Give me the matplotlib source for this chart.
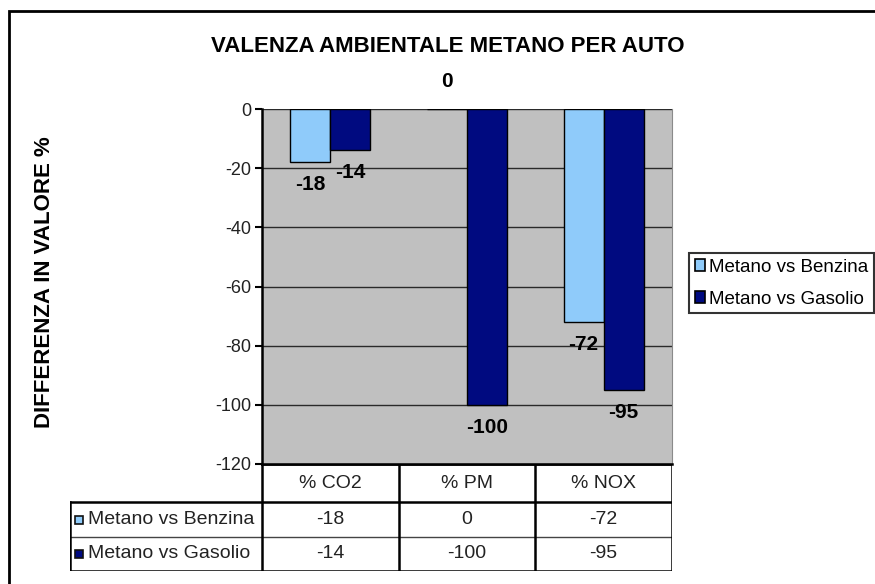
import numpy as np
import matplotlib
matplotlib.use("Agg")
import matplotlib.pyplot as plt
from matplotlib.patches import Patch, Rectangle

plt.rcParams['font.family'] = ['Liberation Sans', 'DejaVu Sans']

# ---- data ----
title = "VALENZA AMBIENTALE METANO PER AUTO"
ylabel = "DIFFERENZA IN VALORE %"
categories = ["% CO2", "% PM", "% NOX"]
series_names = ["Metano vs Benzina", "Metano vs Gasolio"]
benzina = [-18, 0, -72]
gasolio = [-14, -100, -95]
yticks = [0, -20, -40, -60, -80, -100, -120]

light = "#8FCBFA"
dark = "#000A80"

W, H = 875, 584
fig = plt.figure(figsize=(W / 100, H / 100), dpi=100)
fig.patch.set_facecolor("white")

def fy(py):
    return 1 - py / H

# outer chart frame
fig.patches.append(Rectangle((9 / W, -0.1), 1.2, fy(11) + 0.1, transform=fig.transFigure,
                             fill=False, edgecolor="black", linewidth=2))

ax_l, ax_r, ax_t, ax_b = 262, 672, 109, 464
ax = fig.add_axes([ax_l / W, fy(ax_b), (ax_r - ax_l) / W, (ax_b - ax_t) / H])
ax.set_facecolor("#C0C0C0")
ax.set_xlim(-0.5, len(categories) - 0.5)
ax.set_ylim(-120, 0)
ax.set_yticks(yticks)
ax.set_yticklabels([str(v) for v in yticks], fontsize=13, color="#222222")
ax.set_xticks([])
ax.yaxis.grid(True, color="#2a2a2a", linewidth=1)
ax.set_axisbelow(True)
ax.spines["top"].set_visible(False)
ax.spines["right"].set_color("#8a8a8a")
ax.spines["left"].set_linewidth(1.8)
ax.spines["bottom"].set_linewidth(1.8)
ax.tick_params(axis="y", direction="out", length=5, width=1.5, pad=3)

x = np.arange(len(categories))
bw = 0.293
ax.bar(x - bw / 2, benzina, bw, color=light, edgecolor="black", linewidth=1, zorder=3)
ax.bar(x + bw / 2, gasolio, bw, color=dark, edgecolor="black", linewidth=1, zorder=3)

for xs, vals in [(x - bw / 2, benzina), (x + bw / 2, gasolio)]:
    for xi, v in zip(xs, vals):
        off = -16 if v < 0 else 20
        ax.annotate(str(v), (xi, v), xytext=(0, off), textcoords="offset points",
                    ha="center", va="center", fontsize=15, fontweight="bold", zorder=5,
                    annotation_clip=False)

fig.text(448 / W, fy(47), title, ha="center", va="center", fontsize=16, fontweight="bold")
fig.text(45 / W, fy(282), ylabel, ha="center", va="center", rotation=90,
         fontsize=16, fontweight="bold")

# legend
handles = [Patch(facecolor=light, edgecolor="black", linewidth=1.2),
           Patch(facecolor=dark, edgecolor="black", linewidth=1.2)]
leg = fig.legend(handles, series_names, loc="upper left", bbox_to_anchor=(689 / W, fy(253)),
                 frameon=True, fancybox=False, edgecolor="black", borderaxespad=0,
                 handlelength=0.55, handleheight=0.55, handletextpad=0.2, borderpad=0.3,
                 labelspacing=0.8, fontsize=13.5)
leg.get_frame().set_linewidth(1.5)

# data table
tl, tr, tt, tb = 70, 672, 464, 571
tax = fig.add_axes([tl / W, fy(tb), (tr - tl) / W, (tb - tt) / H])
tax.set_xlim(tl, tr)
tax.set_ylim(tb, tt)
tax.axis("off")
row_edges = [464, 502, 537, 571]
ncat = len(categories)
col_edges = [ax_l + (ax_r - ax_l) * k / ncat for k in range(ncat + 1)]
lk = dict(color="black", linewidth=1.8, solid_capstyle="projecting")
tax.plot([ax_l, ax_r], [row_edges[0]] * 2, **lk)
tax.plot([tl, ax_r], [row_edges[1]] * 2, **lk)
tax.plot([tl, ax_r], [row_edges[2]] * 2, color="#444444", linewidth=1)
tax.plot([tl, ax_r], [row_edges[3]] * 2, **lk)
tax.plot([tl, tl], [row_edges[1], row_edges[3]], **lk)
for ce in col_edges:
    tax.plot([ce, ce], [row_edges[0], row_edges[3]], **lk)
for i, cat in enumerate(categories):
    cx = (col_edges[i] + col_edges[i + 1]) / 2
    tax.text(cx, (row_edges[0] + row_edges[1]) / 2, cat, ha="center", va="center",
             fontsize=14, color="#222222")
for r, (name, vals, col) in enumerate([(series_names[0], benzina, light),
                                       (series_names[1], gasolio, dark)]):
    cy = (row_edges[r + 1] + row_edges[r + 2]) / 2
    tax.add_patch(Rectangle((75, cy - 4), 8, 8, facecolor=col, edgecolor="#111111",
                            linewidth=1.2))
    tax.text(88, cy, name, ha="left", va="center", fontsize=14, color="#222222")
    for i, v in enumerate(vals):
        cx = (col_edges[i] + col_edges[i + 1]) / 2
        tax.text(cx, cy, str(v), ha="center", va="center", fontsize=14, color="#222222")

fig.savefig("out.png", dpi=100)
